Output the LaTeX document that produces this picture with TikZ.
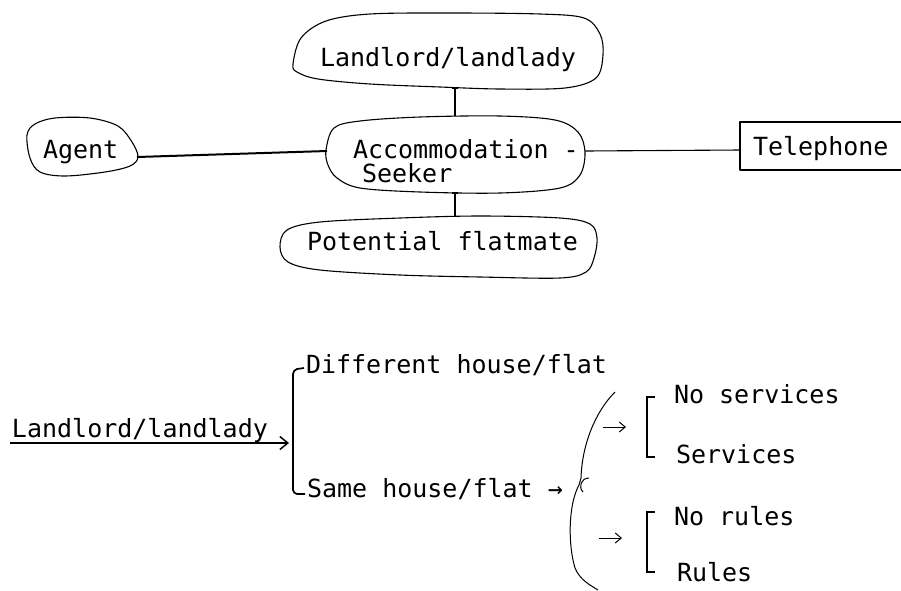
\documentclass[tikz,border=0pt]{standalone}
\usepackage{fontspec}
\setmonofont{DejaVu Sans Mono}
\usetikzlibrary{arrows.meta}
\begin{document}
\begin{tikzpicture}[x=1pt,y=-1pt,
  txt/.style={inner sep=0pt,outer sep=0pt,anchor=base west,
    font=\ttfamily\fontsize{25}{24}\selectfont},
  blob/.style={line width=1.1pt,line join=round},
  link/.style={line width=1.1pt},
  thicklink/.style={line width=2pt},
  fork/.style={line width=1.1pt},
  bigfork/.style={line width=1.7pt},
  pointer/.style={line width=1.5pt,-{Straight Barb[length=8pt,width=13pt,line width=1.5pt]}},
  smallpointer/.style={line width=1pt,-{Straight Barb[length=6pt,width=10pt,line width=1pt]}}]
\useasboundingbox (0,0) rectangle (901,590);

% ---------- upper part: who the seeker deals with ----------
\node[txt] (landlord) at (320,66) {Landlord/landlady};
\node[txt] (seeker) at (353,158) {Accommodation -};
\node[txt] (seeker2) at (362,182) {Seeker};
\node[txt] (flatmate) at (307,250) {Potential flatmate};
\node[txt] (agent) at (43,158) {Agent};
\node[txt] (phone) at (753,155) {Telephone};

% hand-drawn outlines
\draw[blob] plot[smooth cycle,tension=0.55] coordinates {
  (293,64) (301,38) (326,21) (370,14) (450,13) (540,14) (584,18)
  (600,34) (603,55) (596,78) (565,88) (500,89) (440,87) (370,84)
  (318,79) (297,72)};
\draw[blob] plot[smooth cycle,tension=0.55] coordinates {
  (326,150) (334,128) (360,121) (420,117) (500,116) (555,120)
  (578,132) (585,152) (580,175) (560,188) (500,193) (420,192)
  (360,188) (337,178) (328,165)};
\draw[blob] plot[smooth cycle,tension=0.55] coordinates {
  (280,247) (287,230) (320,222) (400,218) (480,216) (560,218)
  (590,224) (597,238) (594,258) (586,272) (560,278) (480,277)
  (400,275) (320,270) (288,262)};
\draw[blob] plot[smooth cycle,tension=0.55] coordinates {
  (27,135) (35,124) (55,118) (90,118) (118,126) (132,142)
  (138,157) (130,166) (105,172) (65,176) (40,172) (30,158)};
% telephone box, open at the right
\coordinate (phoneNW) at (740,122);
\coordinate (phoneSW) at (740,170);
\draw[blob] (901,122) -- (phoneNW) -- (phoneSW) -- (901,170);

% attachment points on the outlines
\coordinate (landlordS) at (455,88);
\coordinate (seekerN) at (455,116);
\coordinate (seekerS) at (455,193);
\coordinate (flatmateN) at (455,216);
\coordinate (seekerW) at (327,151);
\coordinate (seekerE) at (585,151);
\coordinate (agentE) at (137,157);
\coordinate (phoneW) at (740,150);

\draw[link] (landlordS) -- (seekerN);
\draw[link] ([xshift=-3pt]landlordS) -- ([xshift=3pt]landlordS);
\draw[link] (seekerS) -- (flatmateN);
\draw[link] ([xshift=-3pt]seekerS) -- ([xshift=3pt]seekerS);
\draw[thicklink] (agentE) -- (seekerW);
\draw[link] (seekerE) -- (phoneW);

% ---------- lower part: landlord options ----------
\node[txt] (ll) at (12,437) {Landlord/landlady};
\node[txt] (diff) at (306,373) {Different house/flat};
\node[txt] (same) at (307,497) {Same house/flat \char"2192};
\node[txt] (nosvc) at (674,403) {No services};
\node[txt] (svc) at (676,463) {Services};
\node[txt] (norules) at (674,525) {No rules};
\node[txt] (rules) at (677,581) {Rules};

\coordinate (llW) at (10,443);
\coordinate (forkA) at (293,443);
\draw[pointer] (llW) -- ([xshift=-4pt]forkA);

% first fork
\draw[bigfork] (304,368) -- (297,369) to[out=200,in=90] (293,374)
  -- (293,490) to[out=-90,in=160] (297,494) -- (305,494);

% hand-drawn brace
\coordinate (braceTop) at (615,392);
\coordinate (braceMid) at (579,485);
\coordinate (braceBot) at (598,590);
\draw[line width=1pt] (braceTop) .. controls (595,412) and (582,445) .. (581,478)
  -- (braceMid);
\draw[line width=1pt] (589,478) .. controls (581,478) and (578,487) .. (583,492);
\draw[line width=1pt] (braceMid) .. controls (568,505) and (568,545) .. (575,568)
  .. controls (580,580) and (590,585) .. (braceBot);

% arrows to the sub-forks
\coordinate (arrA1) at (603,427);
\coordinate (arrA2) at (626,427);
\coordinate (arrB1) at (599,538);
\coordinate (arrB2) at (622,538);
\draw[smallpointer] (arrA1) -- (arrA2);
\draw[smallpointer] (arrB1) -- (arrB2);

% small square brackets
\draw[fork] (655,397) -- (647,397) -- (647,457) -- (655,457);
\draw[fork] (655,512) -- (647,512) -- (647,572) -- (655,572);
\end{tikzpicture}
\end{document}
